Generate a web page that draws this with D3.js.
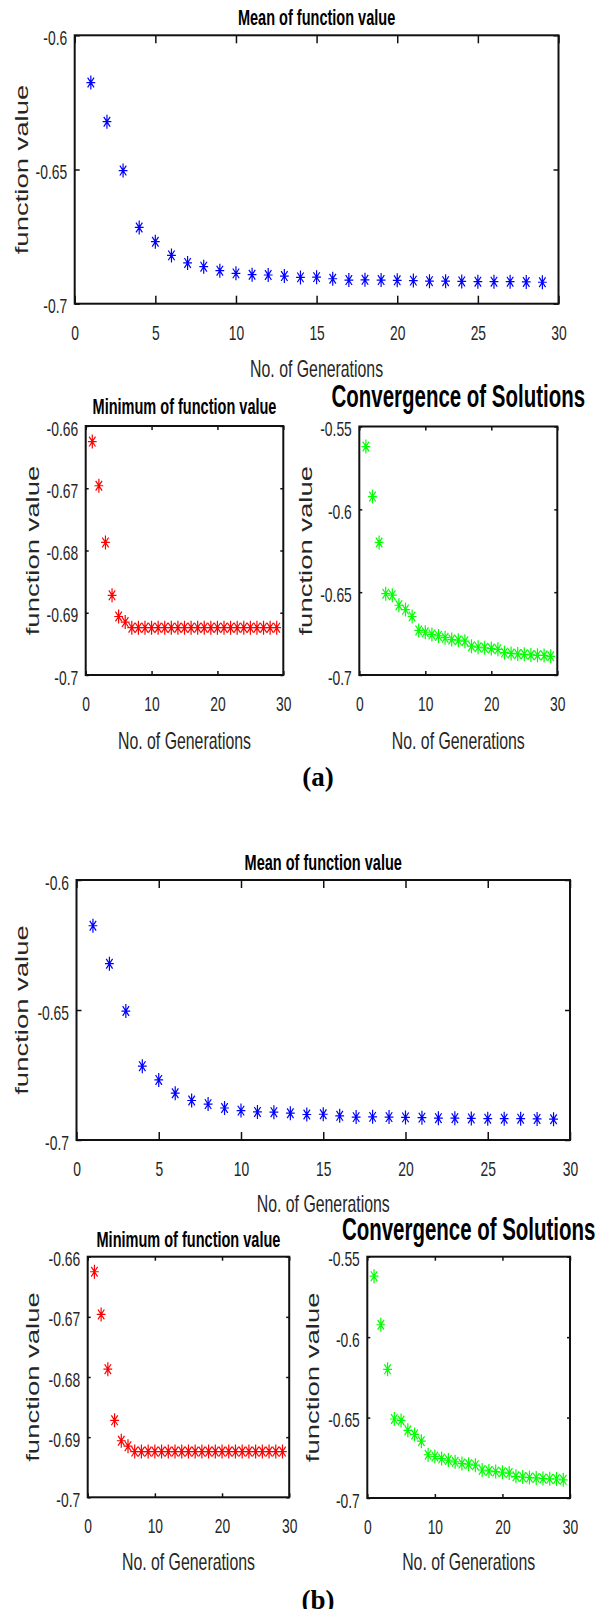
<!DOCTYPE html>
<html>
<head>
<meta charset="utf-8">
<script src="https://cdn.jsdelivr.net/npm/d3@7"></script>
<style>
  body { margin: 0; background: #fff; }
  svg { display: block; background: #fff; font-family: "Liberation Sans", Arial, sans-serif; }
</style>
</head>
<body>
<svg id="fig" width="603" height="1609"></svg>
<script>
// generations on the x axis
const generations = [1, 2, 3, 4, 5, 6, 7, 8, 9, 10, 11, 12, 13, 14, 15, 16, 17, 18, 19, 20, 21, 22, 23, 24, 25, 26, 27, 28, 29];

// values (same runs in (a) and (b))
const meanValues = [-0.6176, -0.6322, -0.6504, -0.6716, -0.6769, -0.6820, -0.6848, -0.6862, -0.6877, -0.6887,
  -0.6892, -0.6893, -0.6897, -0.6902, -0.6901, -0.6907, -0.6912, -0.6911, -0.6912, -0.6913,
  -0.6914, -0.6916, -0.6916, -0.6917, -0.6918, -0.6918, -0.6918, -0.6919, -0.6920];
const minValues = [-0.6625, -0.6696, -0.6787, -0.6872, -0.6906, -0.6915, -0.6924, -0.6924, -0.6924, -0.6924,
  -0.6924, -0.6924, -0.6924, -0.6924, -0.6924, -0.6924, -0.6924, -0.6924, -0.6924, -0.6924,
  -0.6924, -0.6924, -0.6924, -0.6924, -0.6924, -0.6924, -0.6924, -0.6924, -0.6924];
const convValues = [-0.5621, -0.5923, -0.6200, -0.6509, -0.6518, -0.6579, -0.6605, -0.6647, -0.6731, -0.6742,
  -0.6755, -0.6764, -0.6775, -0.6786, -0.6790, -0.6796, -0.6826, -0.6832, -0.6836, -0.6840,
  -0.6845, -0.6865, -0.6870, -0.6873, -0.6875, -0.6879, -0.6881, -0.6882, -0.6887];

// tick labels
const meanXTicks = [0, 5, 10, 15, 20, 25, 30];
const smallXTicks = [0, 10, 20, 30];
const meanYTicks = [-0.6, -0.65, -0.7];
const minYTicks = [-0.66, -0.67, -0.68, -0.69, -0.7];
const convYTicks = [-0.55, -0.6, -0.65, -0.7];

const svg = d3.select('#fig');
const squeeze = 0.66;
const lineColor = '#111';
const textColor = '#262626';
const starPath = 'M0,-7V7M-4.4,0H4.4M-3.2,-4.9L3.2,4.9M-3.2,4.9L3.2,-4.9';
const fmt = d => String(+d.toFixed(3));

// the original figure is squashed horizontally, so text is too
function fitText(sel, k) {
  sel.each(function() {
    const w = this.getComputedTextLength();
    if (w > 0) {
      this.setAttribute('textLength', (w * k).toFixed(1));
      this.setAttribute('lengthAdjust', 'spacingAndGlyphs');
    }
  });
}

const frames = [];

function drawPanel(p) {
  const g = svg.append('g');
  const x = d3.scaleLinear().domain([0, 30]).range([p.left, p.right]);
  const y = d3.scaleLinear().domain([p.yTicks[p.yTicks.length - 1], p.yTicks[0]]).range([p.bottom, p.top]);

  // tick labels only; the tick marks and box are drawn at the end, on top
  const labels = [
    { axis: d3.axisBottom(x).tickValues(p.xTicks).tickFormat(d3.format('d')).tickSize(0).tickPadding(21), t: `translate(0,${p.bottom})` },
    { axis: d3.axisLeft(y).tickValues(p.yTicks).tickFormat(fmt).tickSize(0).tickPadding(7.5), t: `translate(${p.left},0)` }
  ];
  labels.forEach(a => {
    const ag = g.append('g').attr('transform', a.t).call(a.axis);
    ag.attr('font-size', 21).attr('font-family', '"Liberation Sans", Arial, sans-serif');
    ag.select('.domain').remove();
    ag.selectAll('line').remove();
    ag.selectAll('text').style('fill', textColor);
  });
  g.selectAll('text').filter(function() { return this.getAttribute('dy') === '0.32em'; }).attr('dy', '0.43em');
  fitText(g.selectAll('text'), squeeze);

  g.selectAll('.star')
    .data(generations)
    .enter()
    .append('path')
    .attr('class', 'star')
    .attr('d', starPath)
    .attr('transform', (d, i) => `translate(${x(d)},${y(p.values[i])})`)
    .style('fill', 'none').style('stroke', p.color).style('stroke-width', '1.2px');

  const title = g.append('text')
    .attr('x', (p.left + p.right) / 2).attr('y', p.titleY)
    .attr('text-anchor', 'middle')
    .attr('font-weight', 'bold')
    .attr('font-size', p.titleSize)
    .style('fill', '#000')
    .text(p.title);
  fitText(title, squeeze);

  const xl = g.append('text')
    .attr('x', (p.left + p.right) / 2).attr('y', p.xLabelY)
    .attr('text-anchor', 'middle')
    .attr('font-size', 24)
    .style('fill', textColor)
    .text('No. of Generations');
  fitText(xl, squeeze);

  g.append('text')
    .attr('transform', `translate(${p.yLabelX},${(p.top + p.bottom) / 2}) rotate(-90) scale(1,${squeeze})`)
    .attr('text-anchor', 'middle')
    .attr('font-size', 27.5)
    .style('fill', textColor)
    .text('function value');

  frames.push({ p, x, y });
}

function drawFrame(f) {
  const { p, x, y } = f;
  const g = svg.append('g').attr('class', 'frame');
  const ticks = [
    { axis: d3.axisBottom(x).tickValues(p.xTicks).tickSizeInner(-p.xTickLen), t: `translate(0,${p.bottom})` },
    { axis: d3.axisTop(x).tickValues(p.xTicks).tickSizeInner(-p.xTickLen), t: `translate(0,${p.top})` },
    { axis: d3.axisLeft(y).tickValues(p.yTicks).tickSizeInner(-p.yTickLen), t: `translate(${p.left},0)` },
    { axis: d3.axisRight(y).tickValues(p.yTicks).tickSizeInner(-p.yTickLen), t: `translate(${p.right},0)` }
  ];
  ticks.forEach(a => {
    const ag = g.append('g').attr('transform', a.t).call(a.axis.tickSizeOuter(0).tickFormat(() => ''));
    ag.select('.domain').remove();
    ag.selectAll('text').remove();
    ag.selectAll('line').attr('stroke', lineColor).attr('stroke-width', 1.5);
  });
  g.append('rect')
    .attr('x', p.left).attr('y', p.top)
    .attr('width', p.right - p.left).attr('height', p.bottom - p.top)
    .attr('fill', 'none')
    .attr('stroke', lineColor)
    .attr('stroke-width', 2);
}

function drawFigure(f) {
  drawPanel({ ...f.mean, title: 'Mean of function value', titleSize: 22, values: meanValues, color: '#0000ff',
    xTicks: meanXTicks, yTicks: meanYTicks, xTickLen: 8, yTickLen: 5 });
  drawPanel({ ...f.min, title: 'Minimum of function value', titleSize: 22, values: minValues, color: '#ff0000',
    xTicks: smallXTicks, yTicks: minYTicks, xTickLen: 4, yTickLen: 3 });
  drawPanel({ ...f.conv, title: 'Convergence of Solutions', titleSize: 31, values: convValues, color: '#00ff00',
    xTicks: smallXTicks, yTicks: convYTicks, xTickLen: 4, yTickLen: 3 });
  svg.append('text')
    .attr('x', f.tag.x).attr('y', f.tag.y)
    .attr('text-anchor', 'middle')
    .attr('font-family', '"Liberation Serif", "Times New Roman", serif')
    .attr('font-weight', 'bold')
    .attr('font-size', 27)
    .style('fill', '#000')
    .text(f.tag.text);
}

drawFigure({
  mean: { left: 74.7, right: 558.5, top: 35.3, bottom: 303.7, titleY: 25, xLabelY: 377, yLabelX: 28 },
  min: { left: 85.7, right: 283.3, top: 426, bottom: 675, titleY: 414, xLabelY: 749, yLabelX: 38.5 },
  conv: { left: 359.3, right: 557.3, top: 426.5, bottom: 675, titleY: 406.7, xLabelY: 749, yLabelX: 312.3 },
  tag: { x: 318, y: 786, text: '(a)' }
});

drawFigure({
  mean: { left: 76.5, right: 570, top: 880, bottom: 1140, titleY: 870, xLabelY: 1212, yLabelX: 27.7 },
  min: { left: 87.7, right: 289.2, top: 1256.7, bottom: 1497.3, titleY: 1246.5, xLabelY: 1570, yLabelX: 39.2 },
  conv: { left: 367.3, right: 570, top: 1256.7, bottom: 1498, titleY: 1240, xLabelY: 1570, yLabelX: 319.2 },
  tag: { x: 318, y: 1609, text: '(b)' }
});

// boxes and tick marks last, so nothing can paint over them
frames.forEach(drawFrame);
</script>
</body>
</html>
